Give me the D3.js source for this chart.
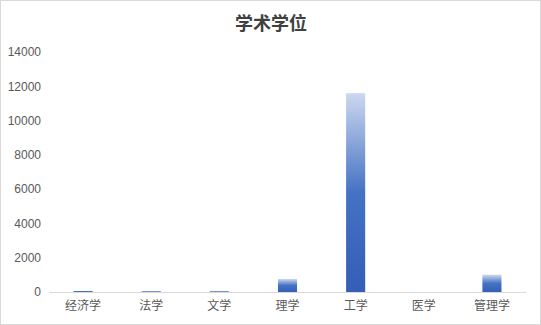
<!DOCTYPE html>
<html>
<head>
<meta charset="utf-8">
<script src="https://cdn.jsdelivr.net/npm/d3@7"></script>
<style>
  body { margin: 0; background: #fff; }
  svg { display: block; }
</style>
</head>
<body>
<script>
// data
var categories = ['经济学', '法学', '文学', '理学', '工学', '医学', '管理学'];
var values = [60, 50, 50, 760, 11600, 0, 1010];
var yTicks = [0, 2000, 4000, 6000, 8000, 10000, 12000, 14000];
var title = '学术学位';

var width = 541, height = 325;
var margin = {top: 52, right: 15, bottom: 33, left: 49};

var svg = d3.select('body')
  .append('svg')
  .attr('width', width)
  .attr('height', height);

// outer frame
svg.append('rect')
  .attr('x', 0.5).attr('y', 0.5)
  .attr('width', width - 1).attr('height', height - 1)
  .attr('fill', '#fff')
  .attr('stroke', '#d9d9d9');

var grad = svg.append('defs').append('linearGradient')
  .attr('id', 'barGrad')
  .attr('x1', 0).attr('y1', 0).attr('x2', 0).attr('y2', 1);
grad.append('stop').attr('offset', '0%').attr('stop-color', '#cdd8f0');
grad.append('stop').attr('offset', '50%').attr('stop-color', '#4472c4');
grad.append('stop').attr('offset', '100%').attr('stop-color', '#335fb6');

var x = d3.scaleBand()
  .domain(categories)
  .range([margin.left, width - margin.right])
  .paddingInner(0.72)
  .paddingOuter(0.36);

var y = d3.scaleLinear()
  .domain([0, 14000])
  .range([height - margin.bottom, margin.top]);

// title
svg.append('text')
  .attr('x', 271)
  .attr('y', 30)
  .attr('text-anchor', 'middle')
  .attr('font-family', '"Noto Sans CJK SC", sans-serif')
  .attr('font-weight', 'bold')
  .attr('font-size', 18)
  .attr('fill', '#404040')
  .text(title);

// y axis labels
var yAxis = d3.axisLeft(y)
  .tickValues(yTicks)
  .tickFormat(d3.format('d'))
  .tickSize(0)
  .tickPadding(8);
var gy = svg.append('g')
  .attr('transform', 'translate(' + margin.left + ',0)')
  .call(yAxis);
gy.select('.domain').remove();
gy.selectAll('text')
  .attr('font-family', '"Liberation Sans", Arial, sans-serif')
  .attr('font-size', 12)
  .attr('fill', '#595959');

// bars
svg.selectAll('rect.bar')
  .data(values)
  .enter()
  .append('rect')
  .attr('class', 'bar')
  .attr('x', function(d, i) { return x(categories[i]); })
  .attr('y', function(d) { return y(d); })
  .attr('width', x.bandwidth())
  .attr('height', function(d) { return y(0) - y(d); })
  .attr('fill', 'url(#barGrad)');

// x axis
var xAxis = d3.axisBottom(x).tickSize(0).tickPadding(9);
var gx = svg.append('g')
  .attr('transform', 'translate(0,' + y(0) + ')')
  .call(xAxis);
gx.select('.domain')
  .attr('stroke', '#d9d9d9')
  .attr('d', 'M' + margin.left + ',0.5H' + (width - margin.right));
gx.selectAll('text')
  .attr('font-family', '"Noto Sans CJK SC", sans-serif')
  .attr('font-size', 12)
  .attr('fill', '#595959');
</script>
</body>
</html>
